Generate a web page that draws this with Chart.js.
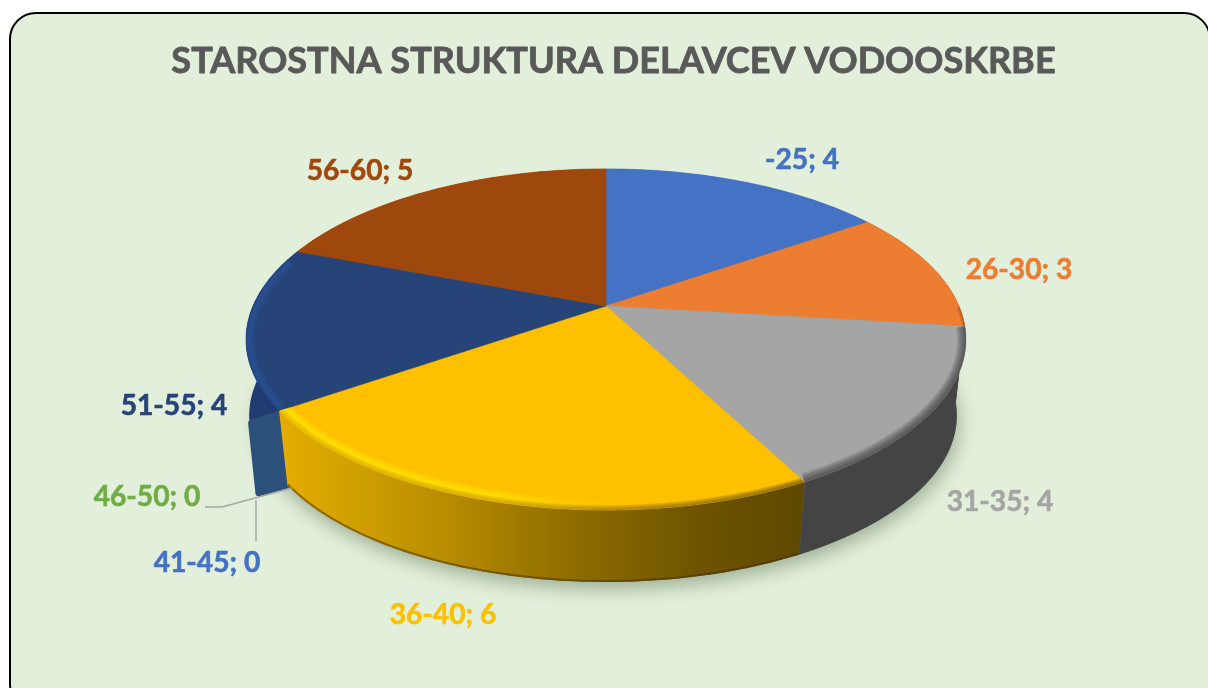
<!DOCTYPE html>
<html>
<head>
<meta charset="utf-8">
<script src="https://cdn.jsdelivr.net/npm/chart.js@4"></script>
<style>
html,body{margin:0;padding:0;width:1208px;height:688px;overflow:hidden;background:#fff}
#card{position:absolute;left:9px;top:12px;width:1202px;height:700px;box-sizing:border-box;border:2px solid #000;border-radius:27px;background:#E2EFDA}
#c{position:absolute;left:0;top:0}
</style>
</head>
<body>
<div id="card"></div>
<canvas id="c" width="1208" height="688"></canvas>
<script>
const titleText = 'STAROSTNA STRUKTURA DELAVCEV VODOOSKRBE';
const categories = ['-25','26-30','31-35','36-40','41-45','46-50','51-55','56-60'];
const values = [4,3,4,6,0,0,4,5];
const sliceColors = ['#4472C4','#ED7D31','#A5A5A5','#FFC000','#5B9BD5','#70AD47','#264478','#9E480E'];
const labelColors = ['#4472C4','#ED7D31','#A5A5A5','#FFC000','#4472C4','#70AD47','#264478','#9E480E'];

// Perspective view of the disc
const view = {cx:606, k:0.196, top:{cy:306,B:353,A:164}, base:{cy:383,B:344,A:160}};
const labelSpots = [[802,159.5],[1019,269.5],[1000,502],[443,615],[207,563],[147,497],[174,406],[360,171]];
const leaders = [null,null,null,null,[[256,541],[256,500]],[[205,507],[222,507],[292,488]],null,null];
const wallShiftX = {6:-6};

function P(t, lvl){
  const u=Math.cos(t), v=Math.sin(t), d=1-view.k*v, s=lvl?view.base:view.top;
  return [view.cx+s.B*u/d, s.cy+s.A*v/d];
}
function samples(a,b){
  const n=Math.max(2,Math.ceil(Math.abs(b-a)/0.02)), out=[];
  for(let i=0;i<=n;i++) out.push(a+(b-a)*i/n);
  return out;
}
function trace(ctx,pts,move){
  pts.forEach((p,i)=>{ (i===0&&move)?ctx.moveTo(p[0],p[1]):ctx.lineTo(p[0],p[1]); });
}
function topPath(ctx,a,b){
  ctx.beginPath();
  ctx.moveTo(view.cx,view.top.cy);
  trace(ctx,samples(a,b).map(t=>P(t,0)),false);
  ctx.closePath();
}
function wallPath(ctx,a,b,dx){
  ctx.beginPath();
  trace(ctx,samples(a,b).map(t=>P(t,0)),true);
  trace(ctx,samples(b,a).map(t=>{const p=P(t,1);return [p[0]+(dx||0),p[1]];}),false);
  ctx.closePath();
}
function xGrad(ctx,stops){
  const g=ctx.createLinearGradient(246,0,966,0);
  stops.forEach(s=>g.addColorStop((s[0]-246)/720,s[1]));
  return g;
}
function steps(from,to,by){const o=[];for(let w=from;w>=to;w-=by)o.push(w);return o;}
const wallFill = {
  1:()=>'#7A3F14',
  2:()=>'#444444',
  3:(ctx)=>xGrad(ctx,[[285,'#E3AD00'],[400,'#C49600'],[480,'#AD8400'],[580,'#8C6B00'],[700,'#6E5400'],[800,'#5F4800']]),
  6:()=>'#203C72'
};
const wallEdge = {3:'rgba(70,45,0,.5)'};
const bevels = {
  1:[{vmin:0,c:()=>'#8A4510',w:steps(6,2,2),al:.2}],
  2:[{vmin:0.02,c:()=>'#333333',w:steps(18,2,2),al:.11}],
  3:[{vmin:0,c:(ctx)=>xGrad(ctx,[[285,'rgba(255,240,0,1)'],[500,'rgba(255,236,0,1)'],[640,'rgba(255,200,0,0)']]),w:steps(24,12,2),al:.14},
     {vmin:0,c:(ctx)=>xGrad(ctx,[[285,'#E3AD00'],[500,'#C89A00'],[650,'#8F6C00'],[800,'#6A5000']]),w:steps(10,2,2),al:.22}],
  6:[{vmin:-0.3,c:()=>'#2F5AA8',w:steps(18,6,3),al:.14},{vmin:-0.3,c:()=>'#203C72',w:steps(5,1,2),al:.2}]
};

const pie3d = {
  id:'pie3d',
  beforeDatasetDraw(chart,args){
    const ctx=chart.ctx, arcs=args.meta.data;
    const slices=arcs.map((arc,i)=>({i,a:arc.startAngle,b:arc.endAngle}));
    const full=[-Math.PI,Math.PI];

    // soft shadow on the card below the pie
    ctx.save();
    ctx.shadowColor='rgba(40,60,30,.36)'; ctx.shadowBlur=18; ctx.shadowOffsetY=7; ctx.shadowOffsetX=2;
    ctx.fillStyle='#777';
    ctx.beginPath(); trace(ctx,samples(full[0],full[1]).map(t=>P(t,1)),true); ctx.closePath(); ctx.fill();
    ctx.restore();

    // side walls, back to front
    const order=slices.slice().sort((p,q)=>Math.sin((p.a+p.b)/2)-Math.sin((q.a+q.b)/2));
    order.forEach(s=>{
      if(s.b-s.a<1e-6){
        if(s.i!==4) return;
        const t=P(s.a,0), d=P(s.a,1);
        ctx.save();
        ctx.fillStyle=ctx.strokeStyle='#2B5079'; ctx.lineWidth=6; ctx.lineJoin='round';
        ctx.beginPath();
        ctx.moveTo(t[0],t[1]+3); ctx.lineTo(t[0]-28,t[1]+12);
        ctx.lineTo(d[0]-29,d[1]+8); ctx.lineTo(d[0],d[1]);
        ctx.closePath(); ctx.fill(); ctx.stroke();
        ctx.restore();
        return;
      }
      const f=wallFill[s.i];
      ctx.fillStyle=f?f(ctx):sliceColors[s.i];
      wallPath(ctx,s.a,s.b,wallShiftX[s.i]); ctx.fill();
      if(wallEdge[s.i]){
        ctx.save();
        wallPath(ctx,s.a,s.b); ctx.clip();
        ctx.beginPath(); trace(ctx,samples(s.a,s.b).map(t=>P(t,1)),true);
        ctx.strokeStyle=wallEdge[s.i]; ctx.lineWidth=4; ctx.stroke();
        ctx.restore();
      }
    });

    // top faces with bevel
    slices.forEach(s=>{
      if(s.b-s.a<1e-6) return;
      ctx.fillStyle=ctx.strokeStyle=sliceColors[s.i];
      ctx.lineWidth=.6;
      topPath(ctx,s.a,s.b); ctx.fill(); ctx.stroke();
    });
    slices.forEach(s=>{
      const list=bevels[s.i]; if(!list||s.b-s.a<1e-6) return;
      ctx.save();
      topPath(ctx,s.a,s.b); ctx.clip();
      list.forEach(b=>{
        const ts=samples(s.a,s.b).filter(t=>Math.sin(t)>=b.vmin);
        if(ts.length<2) return;
        ctx.beginPath(); trace(ctx,ts.map(t=>P(t,0)),true);
        ctx.strokeStyle=b.c(ctx); ctx.globalAlpha=b.al; ctx.lineCap='butt';
        b.w.forEach(w=>{ctx.lineWidth=w; ctx.stroke();});
      });
      ctx.restore();
    });
    return false;
  },
  afterDatasetsDraw(chart){
    const ctx=chart.ctx;
    ctx.save();
    ctx.strokeStyle='#A6A6A6'; ctx.lineWidth=1.5;
    leaders.forEach(l=>{ if(!l) return; ctx.beginPath(); trace(ctx,l,true); ctx.stroke(); });
    ctx.font='bold 28.2px Lato'; ctx.textAlign='center'; ctx.textBaseline='middle';
    ctx.lineWidth=.6; ctx.lineJoin='round';
    categories.forEach((c,i)=>{
      const t=c+'; '+values[i];
      ctx.fillStyle=ctx.strokeStyle=labelColors[i];
      ctx.fillText(t,labelSpots[i][0],labelSpots[i][1]);
      ctx.strokeText(t,labelSpots[i][0],labelSpots[i][1]);
    });
    // slightly heavier title strokes, on the library's own title box
    const tb=chart.titleBlock;
    ctx.font='bold 36.1px Lato'; ctx.strokeStyle='#595959'; ctx.lineWidth=.8;
    ctx.strokeText(titleText,(tb.left+tb.right)/2,(tb.top+tb.bottom)/2);
    ctx.restore();
  }
};

new Chart(document.getElementById('c'),{
  type:'pie',
  data:{labels:categories,datasets:[{data:values,backgroundColor:sliceColors,borderWidth:0}]},
  plugins:[pie3d],
  options:{
    responsive:false,animation:false,
    layout:{padding:{left:19,top:40}},
    plugins:{
      legend:{display:false},tooltip:{enabled:false},
      title:{display:true,text:titleText,color:'#595959',fullSize:false,
        font:{family:'Lato',size:36.1,weight:'bold',lineHeight:1.2},padding:{top:0,bottom:0}}
    }
  }
});
</script>
</body>
</html>
